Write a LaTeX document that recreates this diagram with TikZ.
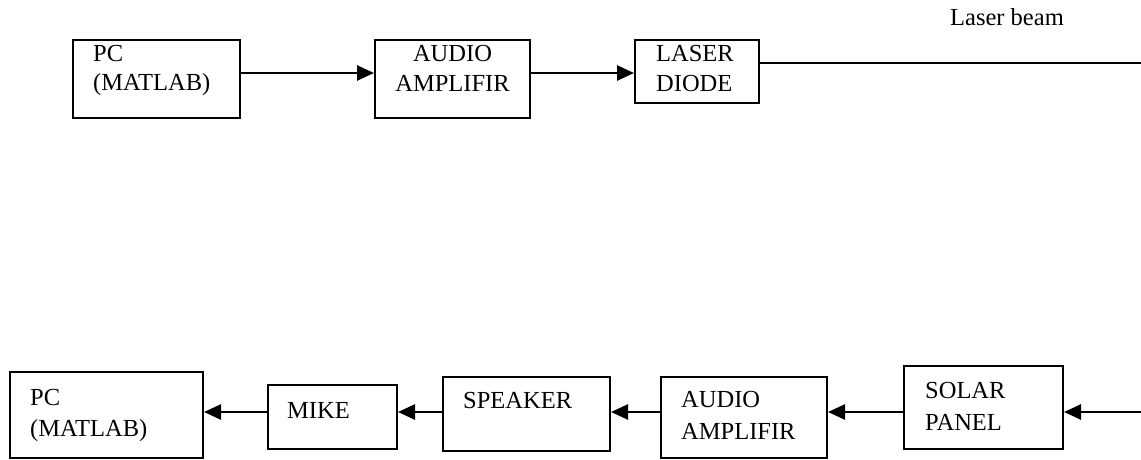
\documentclass[tikz,border=0pt]{standalone}
\usepackage{fontspec}
\setmainfont{Liberation Serif}
\usetikzlibrary{arrows.meta}
\begin{document}
\begin{tikzpicture}[x=1pt,y=-1pt,
  box/.style={draw,line width=2pt,rectangle,inner sep=0pt},
  lbl/.style={anchor=base west,inner sep=0pt,font=\fontsize{24.5}{29}\selectfont},
  clbl/.style={anchor=base,inner sep=0pt,font=\fontsize{24.5}{29}\selectfont},
  arr/.style={line width=2.6pt,-{Triangle[length=17pt,width=15pt]}},
  beam/.style={line width=2.6pt}]
\useasboundingbox (0,0) rectangle (1141,459);
% top row boxes
\node[box,minimum width=167pt,minimum height=78pt] (pcA) at (156.5,79) {};
\node[box,minimum width=155pt,minimum height=78pt] (ampA) at (452.5,79) {};
\node[box,minimum width=124pt,minimum height=63pt] (ldA) at (697,71.5) {};
% bottom row boxes
\node[box,minimum width=193pt,minimum height=86pt] (pcB) at (106.5,415) {};
\node[box,minimum width=129pt,minimum height=64pt] (mike) at (332.5,417) {};
\node[box,minimum width=167pt,minimum height=74pt] (spk) at (526.5,414) {};
\node[box,minimum width=166pt,minimum height=81pt] (ampB) at (744,417.5) {};
\node[box,minimum width=159pt,minimum height=83pt] (solar) at (983.5,407.5) {};
% texts
\node[lbl] (tpcA1) at (93,61) {PC};
\node[lbl] (tpcA2) at (93,90) {(MATLAB)};
\node[clbl] (tampA1) at (452.5,61) {AUDIO};
\node[clbl] (tampA2) at (452.5,91) {AMPLIFIR};
\node[lbl] (tldA1) at (656,61) {LASER};
\node[lbl] (tldA2) at (656,91) {DIODE};
\node[lbl] (tbeam) at (950,25) {Laser beam};
\node[lbl] (tpcB1) at (30,405) {PC};
\node[lbl] (tpcB2) at (30,436) {(MATLAB)};
\node[lbl] (tmike) at (287,418) {MIKE};
\node[lbl] (tspk) at (463,408) {SPEAKER};
\node[lbl] (tampB1) at (681,407) {AUDIO};
\node[lbl] (tampB2) at (681,439) {AMPLIFIR};
\node[lbl] (tsol1) at (925,398) {SOLAR};
\node[lbl] (tsol2) at (925,430) {PANEL};
% connectors
\coordinate (yA) at (0,73);
\coordinate (yBeam) at (0,63);
\coordinate (yB) at (0,412);
\coordinate (beamend) at (1141,63);
\coordinate (beamin) at (1141,412);
\draw[arr] (pcA.east |- yA) -- (ampA.west |- yA);
\draw[arr] (ampA.east |- yA) -- (ldA.west |- yA);
\draw[beam] (ldA.east |- yBeam) -- (beamend);
\draw[arr] (beamin) -- (solar.east |- yB);
\draw[arr] (solar.west |- yB) -- (ampB.east |- yB);
\draw[arr] (ampB.west |- yB) -- (spk.east |- yB);
\draw[arr] (spk.west |- yB) -- (mike.east |- yB);
\draw[arr] (mike.west |- yB) -- (pcB.east |- yB);
\end{tikzpicture}
\end{document}
